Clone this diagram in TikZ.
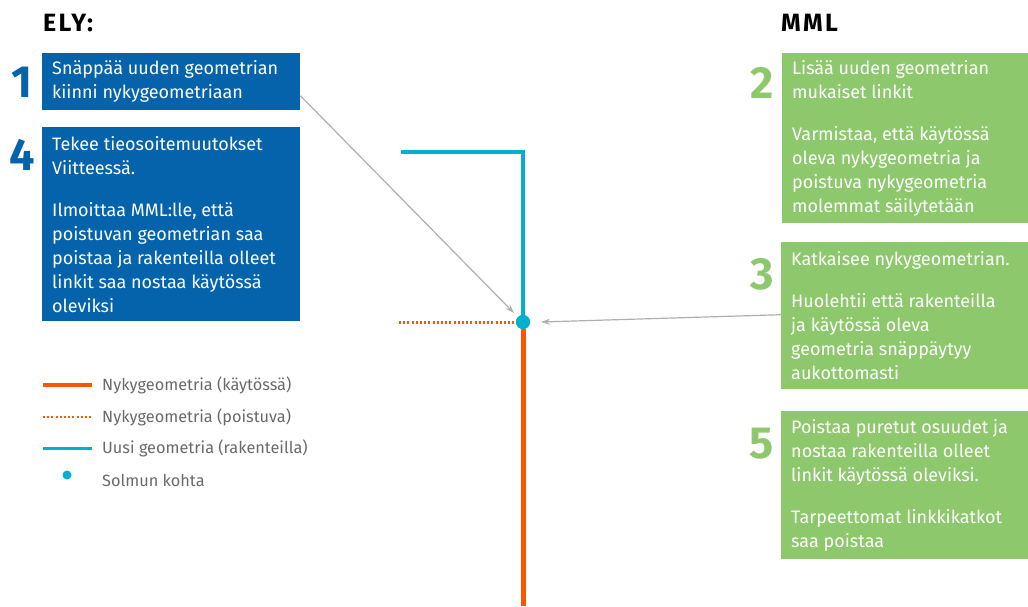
\documentclass[tikz,border=0pt]{standalone}
\usepackage{fontspec}
\setmainfont{Fira Sans}
\usetikzlibrary{arrows.meta}
\definecolor{elyblue}{RGB}{5,99,172}
\definecolor{mmlgreen}{RGB}{141,201,108}
\definecolor{nykyorange}{RGB}{255,85,0}
\definecolor{uusicyan}{RGB}{0,176,204}
\definecolor{arrowgray}{RGB}{175,175,175}
\definecolor{legendgray}{RGB}{105,105,105}
\begin{document}
\begin{tikzpicture}
        [x=1pt, y=-1pt,
        title/.style={anchor=west, inner sep=0pt,
            font=\fontsize{25}{28}\selectfont\bfseries\addfontfeature{LetterSpace=9}},
        elybox/.style={anchor=north west, fill=elyblue, inner sep=0pt, minimum width=258pt},
        mmlbox/.style={elybox, fill=mmlgreen, minimum width=247pt},
        boxtext/.style={anchor=west, text=white, align=left, inner sep=0pt, xshift=10pt,
            font=\fontsize{18}{24}\selectfont},
        number/.style={font=\fontsize{45}{45}\selectfont\bfseries, inner sep=0pt},
        legendtext/.style={anchor=west, text=legendgray, inner sep=0pt, font=\fontsize{16.3}{18}\selectfont},
        nyky/.style={nykyorange, line width=5pt},
        poistuva/.style={nykyorange, line width=3pt, dash pattern=on 2pt off 2.2pt},
        uusi/.style={uusicyan, line width=4pt},
        pointer/.style={arrowgray, line width=1.2pt, -{Stealth[length=9pt, width=6pt]}}]

        \useasboundingbox (0,0) rectangle (1028,606);

        % headings
        \node[title] (ely) at (43,23) {ELY:};
        \node[title] (mml) at (781,23) {MML};

        % ELY boxes
        \node[elybox, minimum height=57pt] (b1) at (42,53) {};
        \node[elybox, minimum height=194pt] (b4) at (42,127) {};
        \node[boxtext] (b1text) at (b1.west)
            {Snäppää uuden geometrian\\kiinni nykygeometriaan};
        \node[boxtext] (b4text) at (b4.west)
            {Tekee tieosoitemuutokset\\Viitteessä.\\[18pt]
             Ilmoittaa MML:lle, että\\poistuvan geometrian saa\\poistaa ja rakenteilla olleet\\linkit saa nostaa käytössä\\oleviksi};

        % MML boxes
        \node[mmlbox, minimum height=170pt] (b2) at (782,53) {};
        \node[mmlbox, minimum height=147pt] (b3) at (781,242) {};
        \node[mmlbox, minimum height=148pt] (b5) at (781,411) {};
        \node[boxtext] (b2text) at (b2.west)
            {Lisää uuden geometrian\\mukaiset linkit\\[18pt]
             Varmistaa, että käytössä\\oleva nykygeometria ja\\poistuva nykygeometria\\molemmat säilytetään};
        \node[boxtext] (b3text) at (b3.west)
            {Katkaisee nykygeometrian.\\[18pt]
             Huolehtii että rakenteilla\\ja käytössä oleva\\geometria snäppäytyy\\aukottomasti};
        \node[boxtext] (b5text) at (b5.west)
            {Poistaa puretut osuudet ja\\nostaa rakenteilla olleet\\linkit käytössä oleviksi.\\[18pt]
             Tarpeettomat linkkikatkot\\saa poistaa};

        % step numbers
        \node[number, text=elyblue] (n1) at (22,82) {1};
        \node[number, text=elyblue] (n4) at (22,155) {4};
        \node[number, text=mmlgreen] (n2) at (762,83) {2};
        \node[number, text=mmlgreen] (n3) at (762,274) {3};
        \node[number, text=mmlgreen] (n5) at (762,444) {5};

        % geometry
        \coordinate (uusistart) at (401,152);
        \coordinate (kulma) at (523,152);
        \coordinate (poistostart) at (399,322);
        \coordinate (nykyend) at (523,606);
        \node[circle, fill=uusicyan, minimum size=14pt, inner sep=0pt] (solmu) at (523,322) {};

        \draw[uusi] (uusistart) -- (kulma) -- (solmu.center);
        \draw[poistuva] (poistostart) -- (solmu.west);
        \draw[nyky] (solmu.south) -- (nykyend);
        \node[circle, fill=uusicyan, minimum size=14pt, inner sep=0pt] at (solmu) {};

        % pointers
        \draw[pointer] ([yshift=-14pt]b1.east) -- ([xshift=-9pt, yshift=9pt]solmu.center);
        \draw[pointer] ([yshift=1pt]b3.west) -- ([xshift=18pt]solmu.center);

        % legend
        \coordinate (l1a) at (43,385); \coordinate (l1b) at (92,385);
        \coordinate (l2a) at (43,417); \coordinate (l2b) at (92,417);
        \coordinate (l3a) at (43,448); \coordinate (l3b) at (92,448);
        \draw[nyky, line width=4pt] (l1a) -- (l1b);
        \draw[poistuva, line width=2.5pt] (l2a) -- (l2b);
        \draw[uusi, line width=3pt] (l3a) -- (l3b);
        \node[circle, fill=uusicyan, minimum size=9pt, inner sep=0pt] (ldot) at (67,475) {};

        \node[legendtext] (t1) at (102,385) {Nykygeometria (käytössä)};
        \node[legendtext] (t2) at (102,417) {Nykygeometria (poistuva)};
        \node[legendtext] (t3) at (102,448) {Uusi geometria (rakenteilla)};
        \node[legendtext] (t4) at (102,480) {Solmun kohta};

\end{tikzpicture}
\end{document}
